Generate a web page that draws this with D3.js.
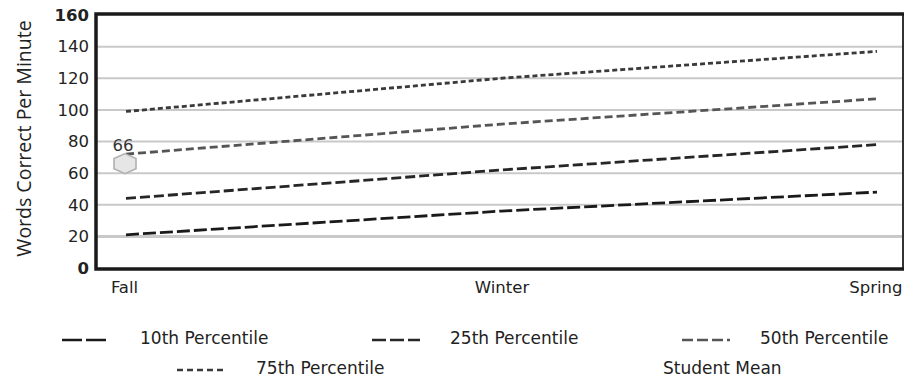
<!DOCTYPE html>
<html>
<head>
<meta charset="utf-8">
<script src="https://cdn.jsdelivr.net/npm/d3@7"></script>
<style>
  html, body { margin: 0; padding: 0; background: #fff; }
  svg { display: block; font-family: "DejaVu Sans", Verdana, sans-serif; }
</style>
</head>
<body>
<svg id="chart" width="905" height="381"></svg>
<script>
// Reading fluency benchmarks across the school year
const seasons = ["Fall", "Winter", "Spring"];
const p10 = [21, 36, 48];
const p25 = [44, 62, 78];
const p50 = [72, 91, 107];
const p75 = [99, 120, 137];
const studentMean = [66];            // only the Fall score is recorded
const yTicks = [0, 20, 40, 60, 80, 100, 120, 140, 160];

const svg = d3.select("#chart");
const plot = { left: 96, right: 904, top: 15, bottom: 268 };

const x = d3.scalePoint().domain(seasons).range([126, 877]);
const y = d3.scaleLinear().domain([0, 160]).range([plot.bottom, plot.top]);

const series = [
  { name: "10th Percentile", values: p10, dash: "13,4", color: "#1a1a1a", legendDash: "20,4" },
  { name: "25th Percentile", values: p25, dash: "10,4", color: "#262626", legendDash: "14,4" },
  { name: "50th Percentile", values: p50, dash: "8,4",  color: "#555555", legendDash: "11,4" },
  { name: "75th Percentile", values: p75, dash: "5,3",  color: "#3a3a3a", legendDash: "6,4" }
];

// horizontal gridlines
svg.append("g")
  .selectAll("line")
  .data(yTicks.filter(d => d > 0 && d < 160))
  .join("line")
  .attr("x1", plot.left).attr("x2", plot.right)
  .attr("y1", d => y(d)).attr("y2", d => y(d))
  .attr("stroke", "#c9c9c9")
  .attr("stroke-width", d => d === 20 ? 3 : 2);

// frame: heavy left/top/bottom, lighter right edge
svg.append("line").attr("x1", plot.right - 1).attr("x2", plot.right - 1)
  .attr("y1", plot.top).attr("y2", plot.bottom + 1)
  .attr("stroke", "#333").attr("stroke-width", 2);
svg.append("path")
  .attr("d", `M${plot.right},${plot.top - 1}H${plot.left}V${plot.bottom + 1}H${plot.right}`)
  .attr("fill", "none").attr("stroke", "#1a1a1a").attr("stroke-width", 3.5);

// y axis labels
const yAxis = d3.axisLeft(y).tickValues(yTicks).tickSize(0).tickPadding(5);
const gy = svg.append("g").attr("transform", `translate(${plot.left - 2},0)`).call(yAxis);
gy.select(".domain").remove();
gy.selectAll("text")
  .attr("font-size", 16.5)
  .attr("fill", "#222")
  .attr("font-weight", d => (d === 0 || d === 160) ? "bold" : "normal")
  .attr("font-family", "DejaVu Sans, Verdana, sans-serif");

// y axis title
svg.append("text")
  .attr("transform", `translate(23,138.5) rotate(-90)`)
  .attr("text-anchor", "middle")
  .attr("dominant-baseline", "central")
  .attr("font-family", "Open Sans, Liberation Sans, sans-serif")
  .attr("font-size", 19.5)
  .attr("fill", "#222")
  .text("Words Correct Per Minute");

// x axis labels
const xAxis = d3.axisBottom(x).tickSize(0).tickPadding(13);
const gx = svg.append("g").attr("transform", `translate(0,${plot.bottom})`).call(xAxis);
gx.select(".domain").remove();
gx.selectAll("text")
  .attr("font-size", 16.5)
  .attr("fill", "#222")
  .attr("font-family", "DejaVu Sans, Verdana, sans-serif")
  .attr("text-anchor", (d, i) => i === seasons.length - 1 ? "end" : "middle")
  .attr("dx", (d, i) => i === seasons.length - 1 ? (plot.right - 2 - x(d)) : (i === 0 ? -2 : 0));

// benchmark lines
const line = d3.line().x((d, i) => x(seasons[i])).y(d => y(d));
svg.append("g")
  .selectAll("path")
  .data(series)
  .join("path")
  .attr("d", d => line(d.values))
  .attr("fill", "none")
  .attr("stroke", d => d.color)
  .attr("stroke-width", 2.8)
  .attr("stroke-dasharray", d => d.dash);

// student mean marker (hexagon) with value label
const hex = (rx, ry) => d3.range(6).map(k => {
  const a = Math.PI / 3 * k - Math.PI / 2;
  return [rx * Math.cos(a) / Math.cos(Math.PI / 6), ry * Math.sin(a)];
});
studentMean.forEach((v, i) => {
  const cx = x(seasons[i]) - 1, cy = y(v);
  svg.append("polygon")
    .attr("points", hex(11, 10).map(p => [cx + p[0], cy + p[1]].join(",")).join(" "))
    .attr("fill", "#e6e6e6")
    .attr("stroke", "#b0b0b0")
    .attr("stroke-width", 1.6);
  svg.append("text")
    .attr("x", cx - 2).attr("y", cy - 13)
    .attr("text-anchor", "middle")
    .attr("font-size", 16.5)
    .attr("fill", "#333")
    .text(v);
});

// legend
const legendItems = [
  { s: series[0], lx: 62,  ly: 340, tx: 140 },
  { s: series[1], lx: 372, ly: 340, tx: 450 },
  { s: series[2], lx: 682, ly: 340, tx: 760 },
  { s: series[3], lx: 177, ly: 370, tx: 256 }
];
const lg = svg.append("g");
legendItems.forEach(it => {
  lg.append("line")
    .attr("x1", it.lx).attr("x2", it.lx + 48)
    .attr("y1", it.ly).attr("y2", it.ly)
    .attr("stroke", it.s.color).attr("stroke-width", 2.4)
    .attr("stroke-dasharray", it.s.legendDash);
  lg.append("text")
    .attr("x", it.tx).attr("y", it.ly + 4)
    .attr("font-size", 17).attr("fill", "#222")
    .text(it.s.name);
});
lg.append("text")
  .attr("x", 663).attr("y", 374)
  .attr("font-size", 17).attr("fill", "#222")
  .text("Student Mean");
</script>
</body>
</html>
